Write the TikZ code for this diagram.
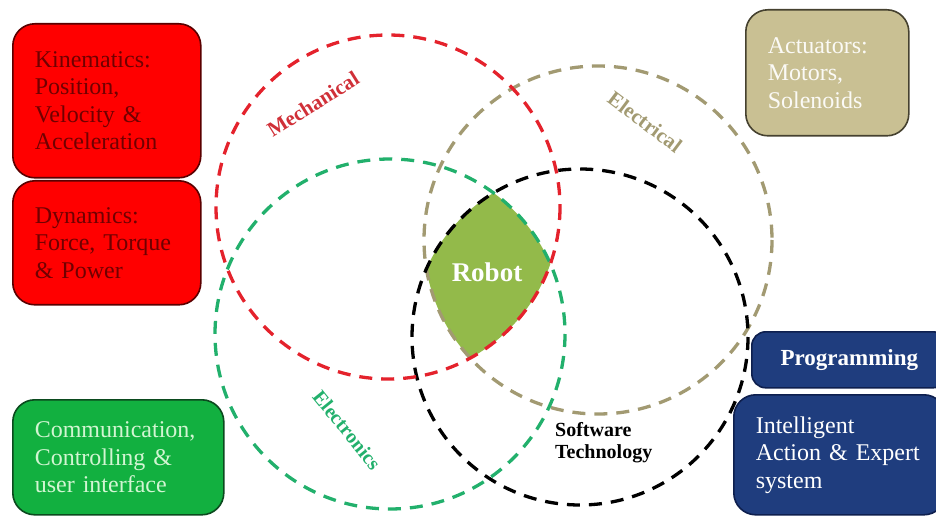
\documentclass[tikz,border=0pt]{standalone}
\usepackage{fontspec}
\setmainfont{Liberation Serif}
\usepackage{tikz}
\usepackage{xcolor}
\usetikzlibrary{positioning}
\definecolor{mechred}{HTML}{E4222C}
\definecolor{mechtext}{HTML}{D03038}
\definecolor{etrgreen}{HTML}{22B06C}
\definecolor{electan}{HTML}{A29A72}
\definecolor{robotgreen}{HTML}{93BA4A}
\definecolor{kinfill}{HTML}{FF0000}
\definecolor{kinline}{HTML}{5A0000}
\definecolor{kintext}{HTML}{700000}
\definecolor{actfill}{HTML}{C9C093}
\definecolor{actline}{HTML}{45412F}
\definecolor{comfill}{HTML}{12B040}
\definecolor{comline}{HTML}{0B4A1E}
\definecolor{comtext}{HTML}{D2F5D2}
\definecolor{progfill}{HTML}{1F3D7E}
\definecolor{progline}{HTML}{0E1F4E}

\begin{document}
\begin{tikzpicture}[x=1pt,y=-1pt,
box/.style={rounded corners=22pt,line width=1.6pt,inner xsep=22pt,inner ysep=0pt,
  align=left,anchor=north west,font=\fontsize{24}{27.5}\selectfont},
ring/.style={line width=3.3pt,dash pattern=on 13pt off 9pt},
lbl/.style={font=\fontsize{21}{23}\selectfont\bfseries,inner sep=0pt}]
\clip (0,0) rectangle (936,518);
\begin{scope}
\clip (388,207) circle (172);
\clip (390,334) circle (175);
\clip (598,240) circle (174);
\clip (580,337) circle (168);
\fill[robotgreen] (380,150) rectangle (620,380);
\end{scope}
\draw[ring,electan] (598,240) circle (174);
\draw[ring,black] (580,337) circle (168);
\draw[ring,etrgreen] (390,334) circle (175);
\draw[ring,mechred] (388,207) circle (172);
\node[box,fill=kinfill,draw=kinline,text=kintext,text width=144pt,minimum height=154pt] (kin) at (12,23)
  {Kinematics:\\Position,\\Velocity \&\\Acceleration};
\node[box,fill=kinfill,draw=kinline,text=kintext,text width=144pt,minimum height=124pt] (dyn) at (12,180)
  {Dynamics:\\Force, Torque\\\& Power};
\node[box,fill=comfill,draw=comline,text=comtext,text width=167pt,minimum height=115pt] (com) at (12,399)
  {Communication,\\Controlling \&\\user interface};
\node[box,fill=actfill,draw=actline,text=white!92!actfill,text width=119pt,minimum height=126pt] (act) at (745,9)
  {Actuators:\\Motors,\\Solenoids};
\node[box,fill=progfill,draw=progline,text=white,text width=151pt,minimum height=56pt,align=center,
  rounded corners=14pt,font=\fontsize{23}{26}\selectfont\bfseries] (prog) at (751,331) {Programming};
\node[box,fill=progfill,draw=progline,text=white,text width=168pt,minimum height=120pt] (intel) at (733,394)
  {Intelligent\\Action \& Expert\\system};
\node[lbl,text=mechtext,rotate=32] (mech) at (313,104) {Mechanical};
\node[lbl,text=electan,rotate=-37] (elec) at (645,122) {Electrical};
\node[lbl,text=etrgreen,rotate=-51,font=\fontsize{20}{22}\selectfont\bfseries] (etr) at (347,430) {Electronics};
\node[lbl,align=left,anchor=west,font=\fontsize{20}{22}\selectfont\bfseries] (soft) at (555,443) {Software\\Technology};
\node[lbl,text=white,font=\fontsize{27}{30}\selectfont\bfseries] (robot) at (487,272) {Robot};
\end{tikzpicture}
\end{document}
